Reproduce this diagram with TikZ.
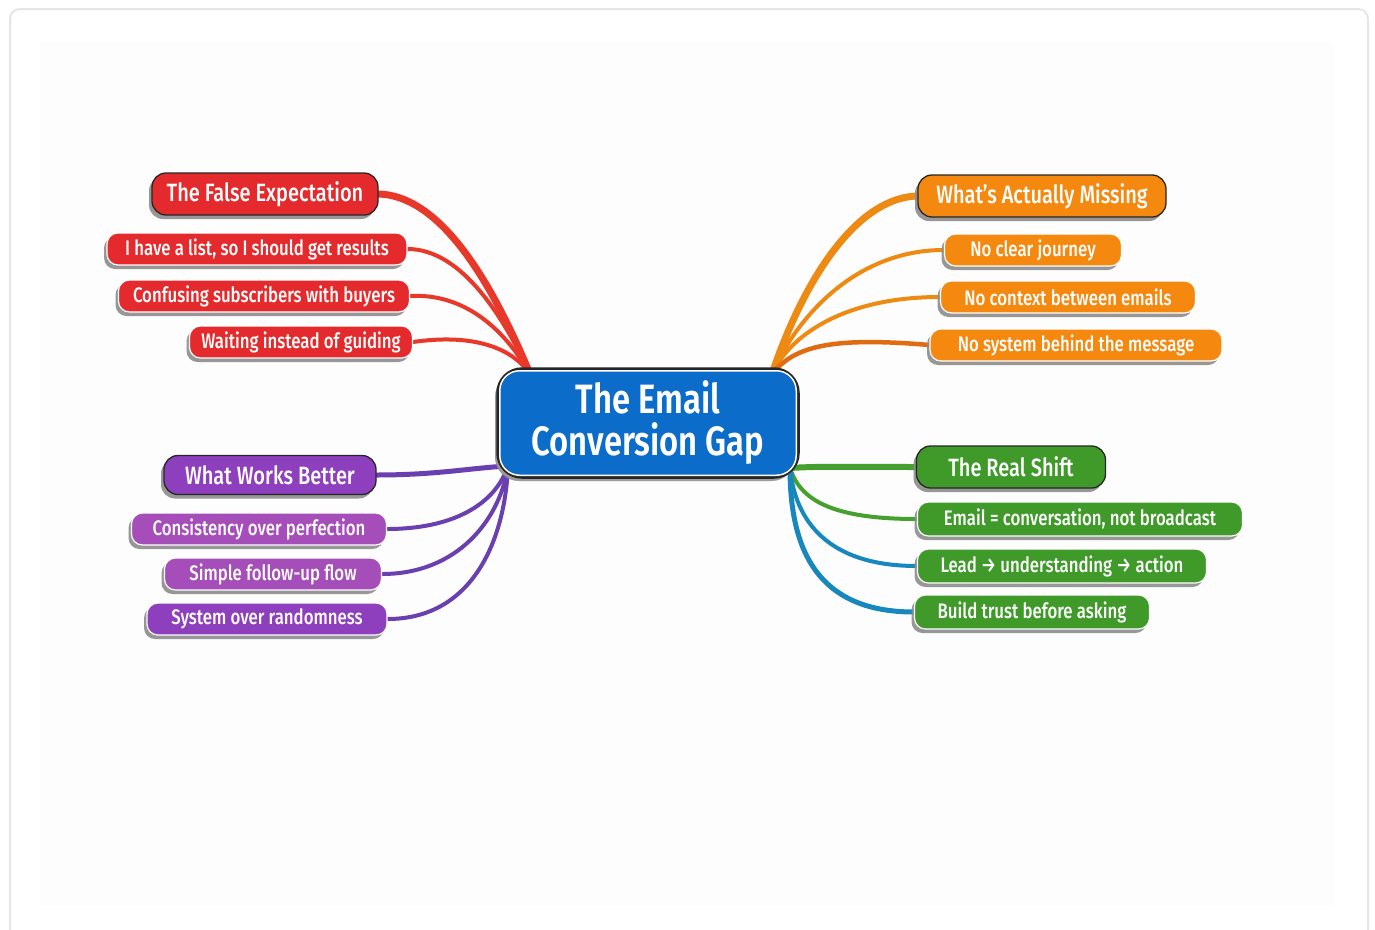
\documentclass[tikz,border=0pt]{standalone}
\usepackage{fontspec}
\setmainfont{Fira Sans}[UprightFont=* Medium, BoldFont=* SemiBold, FakeStretch=0.8]
\usetikzlibrary{shadows,backgrounds}
\definecolor{cred}{HTML}{E42A2C}
\definecolor{cred2}{HTML}{E8382A}
\definecolor{corange}{HTML}{F5890F}
\definecolor{corange2}{HTML}{EE8A12}
\definecolor{corange3}{HTML}{E06C12}
\definecolor{cpurple}{HTML}{8E3FBE}
\definecolor{cpurple2}{HTML}{A54DB8}
\definecolor{cpline}{HTML}{6A3FB0}
\definecolor{cgreen}{HTML}{3F9A2A}
\definecolor{cgline}{HTML}{45A02E}
\definecolor{cbline}{HTML}{1688BD}
\definecolor{cblue}{HTML}{0B6CC9}
\definecolor{cdark}{HTML}{262626}
\definecolor{cpanel}{HTML}{FDFDFD}
\definecolor{cframe}{HTML}{E6E6E6}
\tikzset{
  boxbase/.style={rounded corners=11pt, text=white, align=center, inner sep=0pt,
    drop shadow={shadow xshift=-3pt, shadow yshift=-4pt, fill=black!45, opacity=0.9}},
  subbox/.style={boxbase, draw=white, line width=1.2pt, minimum height=32pt, font=\fontsize{21}{23}\selectfont},
  mainbox/.style={boxbase, rounded corners=14pt, draw=cdark, line width=1.3pt, minimum height=42pt, font=\fontsize{25}{27}\selectfont},
  link/.style={line width=#1, line cap=round},
}
\begin{document}
\begin{tikzpicture}[x=1pt,y=-1pt]
\useasboundingbox (0,0) rectangle (1375,929);
\begin{pgfonlayer}{background}
\fill[white] (0,0) rectangle (1375,929);
\draw[cframe, line width=2pt, rounded corners=10pt, fill=white] (10,9) rectangle (1368,970);
\fill[cpanel] (40,42) rectangle (1335,905);
\end{pgfonlayer}

% center
\node[boxbase, rounded corners=24pt, fill=cblue, draw=cdark, line width=3.5pt,
  minimum width=300pt, minimum height=108pt, font=\fontsize{41}{43}\selectfont\bfseries,
  drop shadow={shadow xshift=-2pt, shadow yshift=-4pt, fill=black!35}]
  (c) at (648,423) {The Email\\[-1pt]Conversion Gap};
\draw[white, line width=1.5pt, rounded corners=20pt] ([shift={(3.5,3.5)}]c.north west) rectangle ([shift={(-3.5,-3.5)}]c.south east);

% red
\node[mainbox, fill=cred, minimum width=226pt] (rm) at (265,194) {The False Expectation};
\node[subbox, fill=cred, minimum width=300pt] (r1) at (257,249) {I have a list, so I should get results};
\node[subbox, fill=cred, minimum width=291pt] (r2) at (264,296) {Confusing subscribers with buyers};
\node[subbox, fill=cred, minimum width=223pt] (r3) at (301,342) {Waiting instead of guiding};

% orange
\node[mainbox, fill=corange, minimum width=248pt] (om) at (1042,196) {What's Actually Missing};
\node[subbox, fill=corange, minimum width=177pt] (o1) at (1033,250) {No clear journey};
\node[subbox, fill=corange, minimum width=255pt] (o2) at (1068,297) {No context between emails};
\node[subbox, fill=corange, minimum width=292pt] (o3) at (1076,345) {No system behind the message};

% purple
\node[mainbox, fill=cpurple, minimum width=212pt, minimum height=39pt] (pm) at (270,475) {What Works Better};
\node[subbox, fill=cpurple2, minimum width=255pt] (p1) at (259,529) {Consistency over perfection};
\node[subbox, fill=cpurple2, minimum width=217pt] (p2) at (273,574) {Simple follow-up flow};
\node[subbox, fill=cpurple, minimum width=240pt] (p3) at (267,619) {System over randomness};

% green
\node[mainbox, fill=cgreen, minimum width=189pt] (gm) at (1011,467) {The Real Shift};
\node[subbox, fill=cgreen, minimum width=325pt, minimum height=34pt] (g1) at (1080,519) {Email = conversation, not broadcast};
\node[subbox, fill=cgreen, minimum width=289pt, minimum height=34pt] (g2) at (1062,566) {Lead → understanding → action};
\node[subbox, fill=cgreen, minimum width=235pt, minimum height=34pt] (g3) at (1032,612) {Build trust before asking};

\coordinate (hr) at (530,374);
\coordinate (ho) at (772,374);
\coordinate (hp) at (508,466);
\coordinate (hg) at (790,468);

\begin{pgfonlayer}{background}
% red links
\draw[cred2, link=7pt] (rm.east) .. controls +(65,2) and (495,290) .. (hr);
\draw[cred2, link=4pt] (r1.east) .. controls +(55,0) and (505,320) .. (hr);
\draw[cred2, link=4pt] (r2.east) .. controls +(55,-3) and (505,330) .. (hr);
\draw[cred2, link=4pt] (r3.east) .. controls +(55,-8) and (510,345) .. (hr);
% orange links
\draw[corange2, link=7pt] (om.west) .. controls +(-65,2) and (800,290) .. (ho);
\draw[corange2, link=4pt] (o1.west) .. controls +(-90,0) and (795,320) .. (ho);
\draw[corange2, link=4pt] (o2.west) .. controls +(-95,0) and (790,335) .. (ho);
\draw[corange3, link=4.5pt] (o3.west) .. controls +(-95,-8) and (795,345) .. (ho);
% purple links
\draw[cpline, link=5pt] (pm.east) .. controls +(60,0) and (470,468) .. (hp);
\draw[cpline, link=4pt] (p1.east) .. controls +(65,0) and (495,505) .. (hp);
\draw[cpline, link=4pt] (p2.east) .. controls +(75,0) and (500,520) .. (hp);
\draw[cpline, link=4pt] (p3.east) .. controls +(85,0) and (505,540) .. (hp);
% green / blue links
\draw[cgline, link=6pt] (gm.west) .. controls +(-55,0) and (820,466) .. (hg);
\draw[cgline, link=4pt] (g1.west) .. controls +(-85,0) and (800,500) .. (hg);
\draw[cbline, link=4pt] (g2.west) .. controls +(-90,0) and (795,520) .. (hg);
\draw[cbline, link=5pt] (g3.west) .. controls +(-100,0) and (790,545) .. (hg);
\end{pgfonlayer}
\end{tikzpicture}
\end{document}
